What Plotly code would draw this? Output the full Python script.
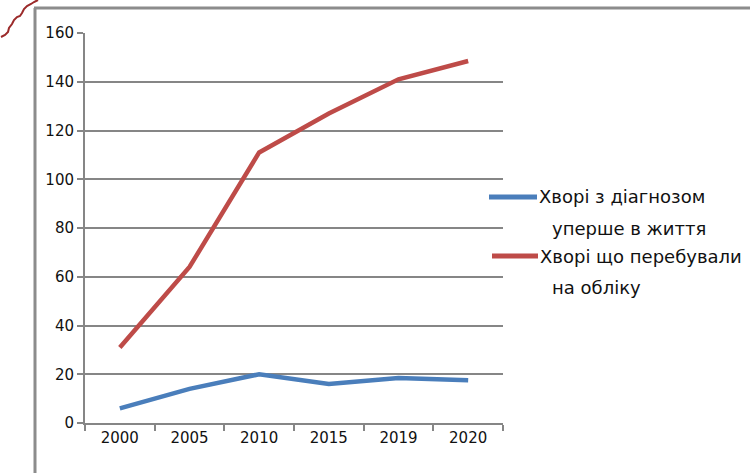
import plotly.graph_objects as go

years = ["2000", "2005", "2010", "2015", "2019", "2020"]
first_time = [6, 14, 20, 16, 18.5, 17.5]
registered = [31, 64, 111, 127, 141, 148.5]
y_ticks = [0, 20, 40, 60, 80, 100, 120, 140, 160]
legend_lines = [["Хворі з діагнозом", "уперше в життя"],
                ["Хворі що перебували", "на обліку"]]
colors = ["#4A7EBB", "#BE4B48"]

L, R, T, B = 85, 247, 33, 50
W, H = 750, 473
pw, ph = W - L - R, H - T - B

def px(x):
    return (x - L) / pw

def py(y):
    return (H - B - y) / ph

fig = go.Figure()
for vals, c in zip([first_time, registered], colors):
    fig.add_trace(go.Scatter(x=years, y=vals, mode="lines",
                             line=dict(color=c, width=4.5), showlegend=False,
                             hoverinfo="skip"))

shapes = []
# outer frame (left and top)
shapes.append(dict(type="line", xref="paper", yref="paper", x0=px(35), x1=px(35),
                   y0=py(8), y1=py(480), line=dict(color="#8C8C8C", width=3)))
shapes.append(dict(type="line", xref="paper", yref="paper", x0=px(34), x1=px(760),
                   y0=py(8), y1=py(8), line=dict(color="#8C8C8C", width=3)))
# red squiggle
pts = [(1, 37), (5, 35), (8, 32), (9, 28), (12, 24), (14, 20), (17, 17), (20, 16),
       (22, 13), (24, 9), (27, 6), (31, 4), (34, 2), (38, 0)]
path = "M " + " L ".join(f"{px(x)},{py(y)}" for x, y in pts)
shapes.append(dict(type="path", xref="paper", yref="paper", path=path,
                   line=dict(color="#9B2A2A", width=2)))

annotations = []
leg_y = [[197, 228], [256, 287]]
leg_x = [[489, 537, 550], [492, 538, 550]]
for i, (lines, c) in enumerate(zip(legend_lines, colors)):
    shapes.append(dict(type="line", xref="paper", yref="paper", x0=px(leg_x[i][0]), x1=px(leg_x[i][1]),
                       y0=py(leg_y[i][0]), y1=py(leg_y[i][0]), line=dict(color=c, width=5)))
    annotations.append(dict(text=lines[0], xref="paper", yref="paper", x=px(leg_x[i][1]), y=py(leg_y[i][0]),
                            xanchor="left", yanchor="middle", showarrow=False,
                            font=dict(size=18, color="#111111", family="DejaVu Sans")))
    annotations.append(dict(text=lines[1], xref="paper", yref="paper",
                            x=px(leg_x[i][2]), y=py(leg_y[i][1]),
                            xanchor="left", yanchor="middle", showarrow=False,
                            font=dict(size=18, color="#111111", family="DejaVu Sans")))

fig.update_layout(
    width=W, height=H, margin=dict(l=L, r=R, t=T, b=B),
    paper_bgcolor="white", plot_bgcolor="white",
    font=dict(family="DejaVu Sans", size=15, color="#111111"),
    xaxis=dict(type="category", range=[-0.5, 5.5], tickson="boundaries",
               ticks="outside", ticklen=6, tickwidth=2, tickcolor="#868686",
               showline=True, linecolor="#868686", linewidth=2, showgrid=False,
               tickfont=dict(size=15)),
    yaxis=dict(range=[0, 160], tickvals=y_ticks, ticks="outside", ticklen=6, tickwidth=2,
               tickcolor="#868686", showline=True, linecolor="#868686", linewidth=2,
               showgrid=True, gridcolor="#868686", gridwidth=2, zeroline=False,
               tickfont=dict(size=15)),
    shapes=shapes, annotations=annotations,
)
fig.write_html("out.html", config={"displayModeBar": False},
               post_script="document.body.style.margin='0';")
